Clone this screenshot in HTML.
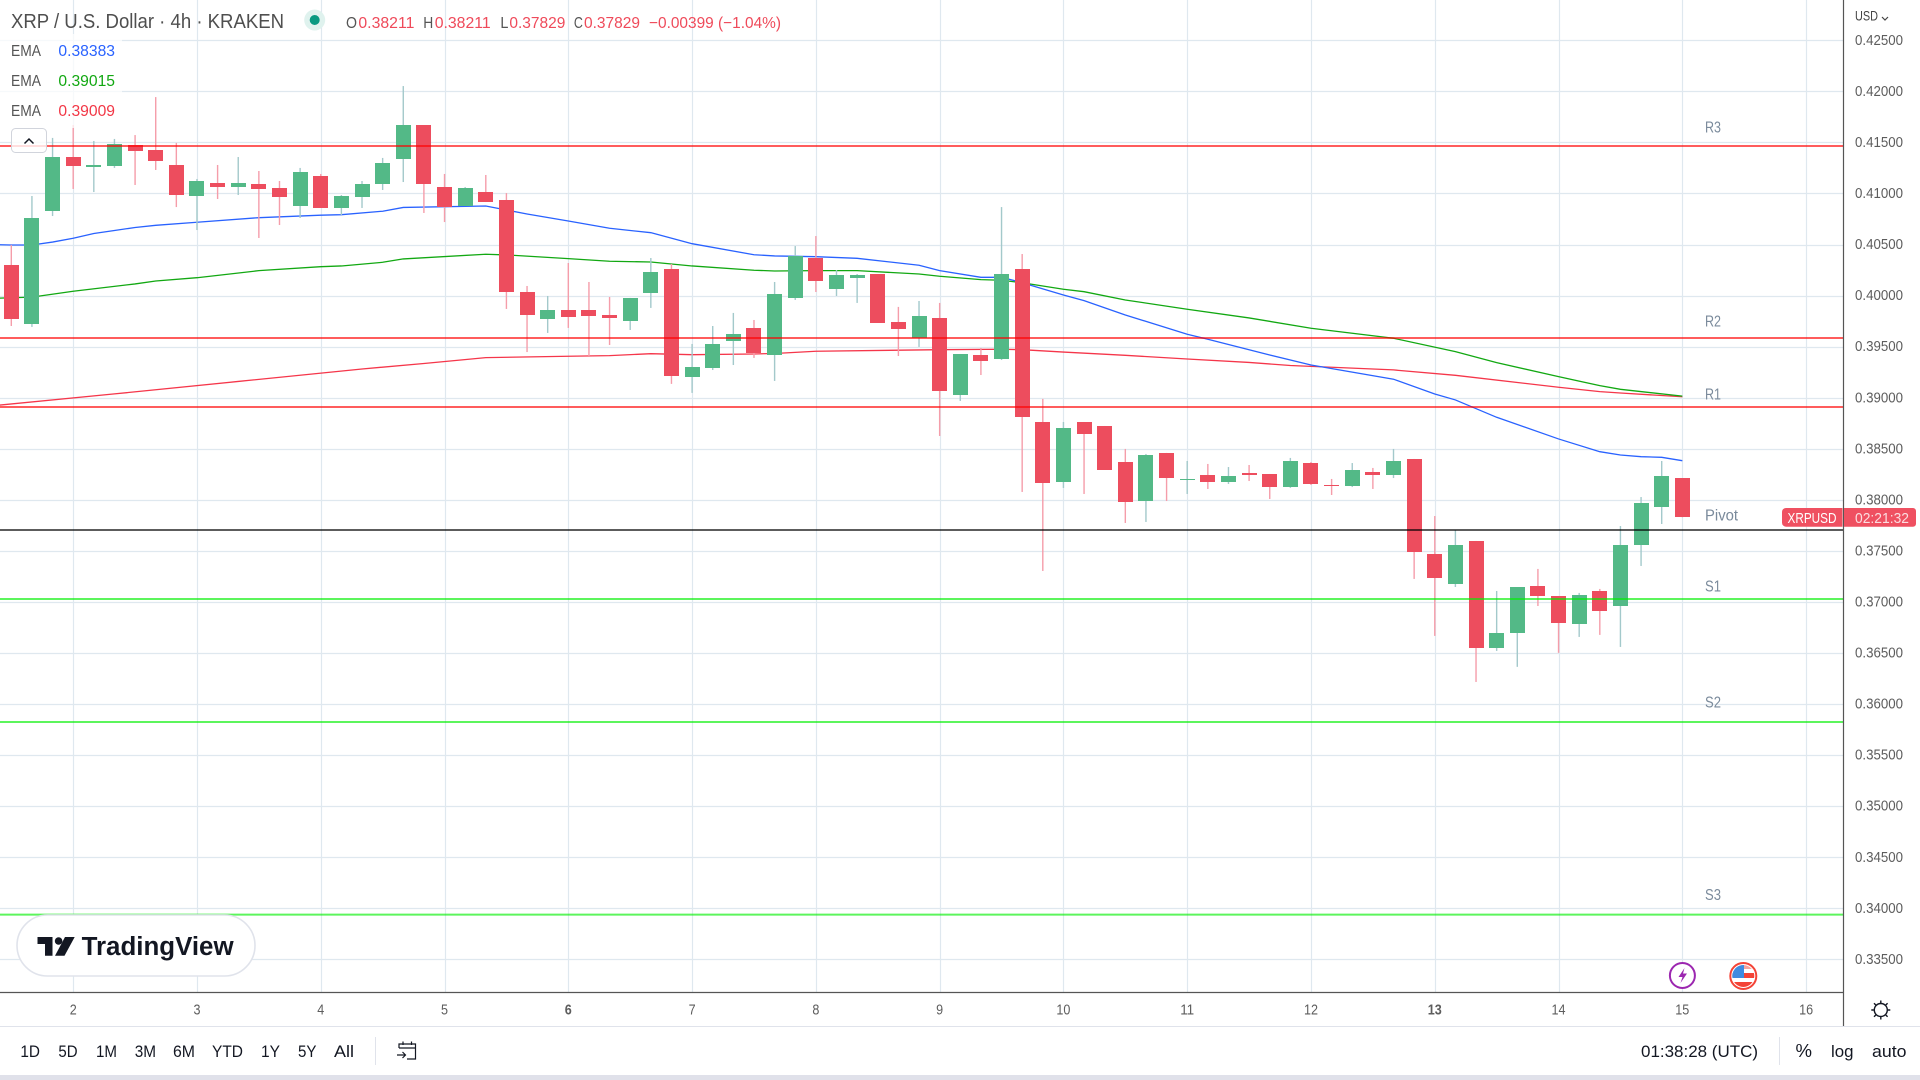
<!DOCTYPE html>
<html lang="en">
<head>
<meta charset="utf-8">
<title>XRP / U.S. Dollar 4h chart</title>
<style>
html,body{margin:0;padding:0;background:#fff;width:1920px;height:1080px;overflow:hidden}
svg{display:block}
text{font-family:"Liberation Sans",sans-serif}
</style>
</head>
<body>
<svg id="chart" xmlns="http://www.w3.org/2000/svg" width="1920" height="1080" viewBox="0 0 1920 1080">
  <rect x="0" y="0" width="1920" height="1080" fill="#ffffff"/>
  <defs>
    <clipPath id="pane"><rect x="0" y="0" width="1843" height="992"/></clipPath>
    <clipPath id="flagclip"><circle cx="1743.3" cy="976" r="11"/></clipPath>
  </defs>
  <g id="grid" clip-path="url(#pane)"></g>
  <g id="emas" clip-path="url(#pane)"></g>
  <g id="candles" clip-path="url(#pane)"></g>
  <g id="levels"></g>
  <g id="level-labels"></g>

  <rect x="0" y="34" width="122" height="94" fill="#ffffff" fill-opacity="0.72"/>
  <text x="11" y="28" font-size="20" fill="#4f4f4f" textLength="273" lengthAdjust="spacingAndGlyphs">XRP / U.S. Dollar · 4h · KRAKEN</text>
  <circle cx="314.7" cy="20" r="10.5" fill="#dff2ee"/>
  <circle cx="314.7" cy="20" r="5" fill="#089981"/>
  <g font-size="16">
    <text x="346" y="28" fill="#555555" textLength="11" lengthAdjust="spacingAndGlyphs">O</text>
    <text x="358.4" y="28" fill="#ef4a5a" textLength="56" lengthAdjust="spacingAndGlyphs">0.38211</text>
    <text x="423.3" y="28" fill="#555555" textLength="10" lengthAdjust="spacingAndGlyphs">H</text>
    <text x="434.7" y="28" fill="#ef4a5a" textLength="56" lengthAdjust="spacingAndGlyphs">0.38211</text>
    <text x="500.4" y="28" fill="#555555" textLength="8" lengthAdjust="spacingAndGlyphs">L</text>
    <text x="509.4" y="28" fill="#ef4a5a" textLength="56" lengthAdjust="spacingAndGlyphs">0.37829</text>
    <text x="573.9" y="28" fill="#555555" textLength="9" lengthAdjust="spacingAndGlyphs">C</text>
    <text x="584" y="28" fill="#ef4a5a" textLength="56" lengthAdjust="spacingAndGlyphs">0.37829</text>
    <text x="649" y="28" fill="#ef4a5a" textLength="132" lengthAdjust="spacingAndGlyphs">−0.00399 (−1.04%)</text>
  </g>
  <g font-size="15.5">
    <text x="11" y="56" fill="#555555" textLength="30" lengthAdjust="spacingAndGlyphs">EMA</text>
    <text x="58.4" y="56" fill="#2962ff" textLength="56.6" lengthAdjust="spacingAndGlyphs">0.38383</text>
    <text x="11" y="86" fill="#555555" textLength="30" lengthAdjust="spacingAndGlyphs">EMA</text>
    <text x="58.4" y="86" fill="#12a812" textLength="56.6" lengthAdjust="spacingAndGlyphs">0.39015</text>
    <text x="11" y="116" fill="#555555" textLength="30" lengthAdjust="spacingAndGlyphs">EMA</text>
    <text x="58.4" y="116" fill="#f23645" textLength="56.6" lengthAdjust="spacingAndGlyphs">0.39009</text>
  </g>
  <g>
    <rect x="11.5" y="128.5" width="35" height="24" rx="4" fill="#ffffff" fill-opacity="0.8" stroke="#d1d4dc"/>
    <path d="M24.5 143.5 L29 139 L33.5 143.5" fill="none" stroke="#131722" stroke-width="1.5"/>
  </g>

  <line x1="1843.5" y1="0" x2="1843.5" y2="1026" stroke="#555555" stroke-width="1.2"/>
  <line x1="0" y1="992.5" x2="1843.5" y2="992.5" stroke="#555555" stroke-width="1.2"/>
  <line x1="0" y1="1026.5" x2="1920" y2="1026.5" stroke="#e0e3eb" stroke-width="1"/>
  <rect x="0" y="1075" width="1920" height="5" fill="#e0e1ea"/>
  <g id="price-ticks"></g>
  <g id="time-ticks"></g>

  <text x="1855" y="20.5" font-size="14" fill="#444444" textLength="23" lengthAdjust="spacingAndGlyphs">USD</text>
  <path d="M1882 17 L1885 20 L1888 17" fill="none" stroke="#444444" stroke-width="1.2"/>

  <path d="M1786 508 H1842.5 V526.7 H1786 a4 4 0 0 1 -4 -4 V512 a4 4 0 0 1 4 -4 z" fill="#ef5061"/>
  <text x="1787.5" y="523" font-size="15" fill="#ffffff" textLength="49" lengthAdjust="spacingAndGlyphs">XRPUSD</text>
  <path d="M1844 508 H1913 a3 3 0 0 1 3 3 V523.7 a3 3 0 0 1 -3 3 H1844 z" fill="#ef5061"/>
  <text x="1855" y="523" font-size="15" fill="#fbdde0" textLength="54" lengthAdjust="spacingAndGlyphs">02:21:32</text>

  <g>
    <rect x="17" y="915" width="238" height="61" rx="30.5" fill="#ffffff" stroke="#e0e3eb" stroke-width="1.6"/>
    <path d="M37.5 937 H52.5 V955.7 H45 V944 H37.5 Z" fill="#131722"/>
    <circle cx="58.6" cy="941" r="3.8" fill="#131722"/>
    <path d="M65 937 H74.7 L64.5 955.7 H55 Z" fill="#131722"/>
    <text x="81.6" y="955" font-size="25.5" font-weight="700" fill="#131722" textLength="152" lengthAdjust="spacingAndGlyphs">TradingView</text>
  </g>

  <g>
    <circle cx="1682.4" cy="975.5" r="12.5" fill="#ffffff" stroke="#9c27b0" stroke-width="2"/>
    <path d="M1684.5 968 L1678.5 977 H1682.5 L1680.5 983 L1687 973.5 H1683 Z" fill="#9c27b0"/>
  </g>
  <g>
    <circle cx="1743.3" cy="976" r="13" fill="#ffffff" stroke="#f44336" stroke-width="2"/>
    <g clip-path="url(#flagclip)">
      <rect x="1732" y="965" width="23" height="4" fill="#f6a5a0"/>
      <rect x="1732" y="973" width="23" height="5" fill="#f44336"/>
      <rect x="1732" y="982" width="23" height="5" fill="#f44336"/>
      <rect x="1732" y="965" width="12" height="13" fill="#3f8be0"/>
    </g>
  </g>

  <g stroke="#131722" fill="none">
    <circle cx="1880.8" cy="1010" r="6.5" stroke-width="1.4"/>
    <path d="M1880.8 1000.5 V1003 M1880.8 1017 V1019.5 M1871.3 1010 H1873.8 M1887.8 1010 H1890.3 M1874 1003.2 L1875.8 1005 M1885.8 1015 L1887.6 1016.8 M1874 1016.8 L1875.8 1015 M1885.8 1005 L1887.6 1003.2" stroke-width="1.4"/>
  </g>

  <g font-size="17" fill="#131722">
    <text x="20.4" y="1057" textLength="19.6" lengthAdjust="spacingAndGlyphs">1D</text>
    <text x="58.4" y="1057" textLength="19.2" lengthAdjust="spacingAndGlyphs">5D</text>
    <text x="96" y="1057" textLength="21" lengthAdjust="spacingAndGlyphs">1M</text>
    <text x="134.7" y="1057" textLength="21.3" lengthAdjust="spacingAndGlyphs">3M</text>
    <text x="173" y="1057" textLength="22" lengthAdjust="spacingAndGlyphs">6M</text>
    <text x="212" y="1057" textLength="31" lengthAdjust="spacingAndGlyphs">YTD</text>
    <text x="261" y="1057" textLength="19" lengthAdjust="spacingAndGlyphs">1Y</text>
    <text x="298" y="1057" textLength="18.5" lengthAdjust="spacingAndGlyphs">5Y</text>
    <text x="334" y="1057" textLength="20" lengthAdjust="spacingAndGlyphs">All</text>
  </g>
  <line x1="375.5" y1="1037" x2="375.5" y2="1065" stroke="#e0e3eb"/>
  <path d="M399 1048 V1044 H415.5 V1059 H407 M399 1048 H415.5 M403 1041.5 V1045 M411.5 1041.5 V1045 M397 1055 H405.5 M402.5 1052 L405.5 1055 L402.5 1058" fill="none" stroke="#131722" stroke-width="1.2"/>

  <g font-size="17" fill="#131722">
    <text x="1641" y="1057" textLength="117" lengthAdjust="spacingAndGlyphs">01:38:28 (UTC)</text>
    <text x="1795.5" y="1057" font-size="18" textLength="16.5" lengthAdjust="spacingAndGlyphs">%</text>
    <text x="1831" y="1057" textLength="22.5" lengthAdjust="spacingAndGlyphs">log</text>
    <text x="1872" y="1057" textLength="34.5" lengthAdjust="spacingAndGlyphs">auto</text>
  </g>
  <line x1="1779.5" y1="1037" x2="1779.5" y2="1065" stroke="#e0e3eb"/>
</svg>
<script>
const opens=[.40299,.39722,.40828,.41357,.41259,.41269,.41475,.41426,.41279,.40975,
.41102,.41063,.41093,.41053,.40877,.41171,.40858,.40965,.41093,.41338,
.41670,.41063,.40877,.41014,.40936,.40035,.39771,.39859,.39859,.39810,
.39751,.40026,.40260,.39203,.39291,.39555,.39683,.39418,.39977,.40368,
.40064,.40172,.40211,.39741,.39585,.39781,.39027,.39418,.39379,.40260,
.38762,.38174,.38762,.38723,.38370,.37988,.38459,.38194,.38243,.38174,
.38263,.38253,.38125,.38360,.38145,.38135,.38273,.38243,.38400,.37470,
.37176,.37597,.36549,.36696,.37156,.37058,.36784,.37107,.36960,.37557,.37929,.38211];
const highs=[.40495,.40975,.41544,.41670,.41514,.41534,.41572,.41944,.41495,.41142,
.41279,.41357,.41220,.41122,.41250,.41191,.40985,.41122,.41348,.42052,
.41670,.41191,.41063,.41181,.41004,.40094,.39996,.40319,.40133,.39986,
.39977,.40368,.40309,.39526,.39702,.39830,.39761,.40133,.40485,.40583,
.40250,.40211,.40211,.39889,.39947,.39928,.39428,.39487,.40867,.40407,
.38988,.38762,.38762,.38723,.38498,.38449,.38459,.38380,.38351,.38321,
.38341,.38253,.38410,.38370,.38204,.38360,.38312,.38498,.38400,.37841,
.37704,.37597,.37107,.37146,.37323,.37058,.37088,.37127,.37743,.38027,.38380,.38211];
const lows=[.39702,.39693,.40779,.41044,.41014,.41250,.41083,.41230,.40867,.40642,
.40946,.40985,.40564,.40691,.40760,.40858,.40789,.40858,.41034,.41112,
.40809,.40720,.40877,.40916,.39869,.39447,.39634,.39683,.39408,.39516,
.39663,.39879,.39135,.39047,.39271,.39320,.39389,.39164,.39957,.40035,
.39996,.39928,.39732,.39408,.39497,.38625,.38968,.39222,.39369,.38077,
.37303,.38116,.38057,.38292,.37773,.37783,.37988,.38057,.38106,.38155,
.38184,.38008,.38116,.38145,.38047,.38125,.38106,.38213,.37225,.36667,
.37146,.36216,.36520,.36364,.36960,.36501,.36657,.36677,.36559,.37352,.37763,.37829];
const closes=[.39771,.40760,.41357,.41269,.41279,.41485,.41416,.41318,.40985,.41122,
.41063,.41102,.41044,.40965,.41210,.40858,.40975,.41093,.41299,.41670,
.41093,.40867,.41053,.40916,.40035,.39810,.39859,.39790,.39800,.39781,
.39977,.40231,.39213,.39301,.39526,.39624,.39438,.40016,.40387,.40143,
.40201,.40201,.39732,.39673,.39800,.39066,.39428,.39359,.40211,.38811,
.38165,.38703,.38645,.38292,.37978,.38439,.38213,.38204,.38174,.38234,
.38243,.38125,.38380,.38155,.38135,.38292,.38243,.38380,.37489,.37235,
.37557,.36549,.36696,.37146,.37058,.36794,.37068,.36911,.37557,.37969,.38234,.37829];

const emaFastBars=[-1,0,1,2,3,4,5,6,7,9,12,15,16,18,19,23,24,25,27,29,31,33,36,37,39,41,44,45,47,48,49,51,52,54,57,58,61,63,67,69,70,72,75,77,78,79,80,81];
const emaFastValues=[.40500,.40495,.40495,.40524,.40561,.40608,.40637,.40667,.40688,.40718,.40763,.40787,.40792,.40826,.40863,.40877,.40838,.40799,.40730,.40659,.40616,.40508,.40400,.40388,.40381,.40365,.40297,.40244,.40179,.40179,.40126,.40006,.39950,.39810,.39621,.39572,.39418,.39320,.39181,.39036,.38978,.38808,.38596,.38471,.38439,.38422,.38416,.38383];
const emaMidBars=[-1,1,3,6,7,9,12,15,16,18,19,23,24,27,29,31,33,36,37,39,41,44,45,47,48,49,51,52,54,57,60,63,67,70,72,75,77,78,81];
const emaMidValues=[.39972,.39985,.40042,.40114,.40143,.40175,.40244,.40283,.40290,.40326,.40359,.40405,.40398,.40362,.40336,.40329,.40290,.40248,.40241,.40244,.40244,.40211,.40189,.40156,.40150,.40126,.40062,.40038,.39957,.39866,.39781,.39680,.39582,.39451,.39343,.39206,.39118,.39082,.39015];
const emaSlowBars=[-1,5,11,17,20,23,27,29,31,33,36,37,39,45,48,49,51,54,57,60,62,67,70,75,77,78,81];
const emaSlowValues=[.38919,.39037,.39159,.39281,.39335,.39392,.39406,.39412,.39431,.39421,.39428,.39433,.39455,.39470,.39474,.39470,.39447,.39415,.39379,.39345,.39315,.39272,.39219,.39102,.39059,.39046,.39009];

const levelNames=['R3','R2','R1','Pivot','S1','S2','S3'];
const levelValues=[.41465,.39585,.38909,.37704,.37029,.35824,.33937];
const levelLabelPrices=[.41595,.39695,.38981,.37795,.37100,.35964,.34081];

const priceTicks=[.425,.42,.415,.41,.405,.4,.395,.39,.385,.38,.375,.37,.365,.36,.355,.35,.345,.34,.335];
const priceTickLabels=['0.42500','0.42000','0.41500','0.41000','0.40500','0.40000','0.39500','0.39000','0.38500','0.38000','0.37500','0.37000','0.36500','0.36000','0.35500','0.35000','0.34500','0.34000','0.33500'];
const dayBars=[3,9,15,21,27,33,39,45,51,57,63,69,75,81,87];
const dayLabels=['2','3','4','5','6','7','8','9','10','11','12','13','14','15','16'];

const NS='http://www.w3.org/2000/svg';
function yScale(p){return 40.3+(0.425-p)*10211;}
function xScale(i){return 11.3+20.63*i;}
function svgEl(tag){return document.createElementNS(NS,tag);}

const gridG=document.getElementById('grid');
priceTicks.forEach(function(p){
  const l=svgEl('line');
  
  
  const y=Math.round(yScale(p))+0.5;
  l.setAttribute('x1',0);l.setAttribute('x2',1843);l.setAttribute('y1',y);l.setAttribute('y2',y);
  l.setAttribute('stroke','#dfe8ef');l.setAttribute('stroke-width',1.2);
  gridG.appendChild(l);
});
dayBars.forEach(function(b){
  const l=svgEl('line');
  
  
  const x=Math.round(xScale(b))+0.5;
  l.setAttribute('x1',x);l.setAttribute('x2',x);l.setAttribute('y1',0);l.setAttribute('y2',992);
  l.setAttribute('stroke','#dfe8ef');l.setAttribute('stroke-width',1.2);
  gridG.appendChild(l);
});

function linePoints(bars,vals){
  return bars.map(function(b,k){return xScale(b).toFixed(2)+','+yScale(vals[k]).toFixed(2);}).join(' ');
}
const emaG=document.getElementById('emas');
const emaSlow=svgEl('polyline');


emaSlow.setAttribute('points',linePoints(emaSlowBars,emaSlowValues));
emaSlow.setAttribute('fill','none');emaSlow.setAttribute('stroke','#f5364a');emaSlow.setAttribute('stroke-width',1.3);
emaG.appendChild(emaSlow);
const emaMid=svgEl('polyline');


emaMid.setAttribute('points',linePoints(emaMidBars,emaMidValues));
emaMid.setAttribute('fill','none');emaMid.setAttribute('stroke','#12a812');emaMid.setAttribute('stroke-width',1.3);
emaG.appendChild(emaMid);
const emaFast=svgEl('polyline');


emaFast.setAttribute('points',linePoints(emaFastBars,emaFastValues));
emaFast.setAttribute('fill','none');emaFast.setAttribute('stroke','#2962ff');emaFast.setAttribute('stroke-width',1.3);
emaG.appendChild(emaFast);

const candleG=document.getElementById('candles');
opens.forEach(function(o,i){
  const c=closes[i],up=c>=o,cx=xScale(i);
  const wick=svgEl('rect');
  
  
  const hy=yScale(highs[i]),ly=yScale(lows[i]);
  wick.setAttribute('x',(cx-0.7).toFixed(2));wick.setAttribute('width',1.4);
  wick.setAttribute('y',hy.toFixed(2));wick.setAttribute('height',(ly-hy).toFixed(2));
  wick.setAttribute('fill',up?'#a3c9cb':'#f59daa');
  candleG.appendChild(wick);
  const body=svgEl('rect');
  
  
  const t=Math.round(yScale(Math.max(o,c))),b=Math.round(yScale(Math.min(o,c)));
  body.setAttribute('x',Math.round(cx-7.5));body.setAttribute('width',15);
  body.setAttribute('y',t);body.setAttribute('height',Math.max(1,b-t));
  body.setAttribute('fill',up?'#53b987':'#ed4d5e');
  candleG.appendChild(body);
});

const levelG=document.getElementById('levels');
const labelG=document.getElementById('level-labels');
levelNames.forEach(function(name,i){
  const y=yScale(levelValues[i]);
  const kind=name==='Pivot'?'#000000':(name.charAt(0)==='R'?'#ff0000':'#00f000');
  const l=svgEl('line');
  
  
  l.setAttribute('x1',0);l.setAttribute('x2',1843);l.setAttribute('y1',y);l.setAttribute('y2',y);
  l.setAttribute('stroke',kind);l.setAttribute('stroke-opacity',0.64);l.setAttribute('stroke-width',2);
  levelG.appendChild(l);
  const t=svgEl('text');
  
  
  t.setAttribute('x',1705);t.setAttribute('y',yScale(levelLabelPrices[i]).toFixed(1));
  t.setAttribute('font-size',15.5);t.setAttribute('fill','#7a8a9b');
  t.setAttribute('textLength',name==='Pivot'?33:16);
  t.setAttribute('lengthAdjust','spacingAndGlyphs');
  t.textContent=name;
  labelG.appendChild(t);
});

const priceG=document.getElementById('price-ticks');
priceTicks.forEach(function(p,i){
  const t=svgEl('text');
  
  
  t.setAttribute('x',1855);t.setAttribute('y',(yScale(p)+4.6).toFixed(1));
  t.setAttribute('font-size',14.5);t.setAttribute('fill','#5d5d5d');
  t.setAttribute('textLength',48);t.setAttribute('lengthAdjust','spacingAndGlyphs');
  t.textContent=priceTickLabels[i];
  priceG.appendChild(t);
});

const timeG=document.getElementById('time-ticks');
dayBars.forEach(function(b,i){
  const t=svgEl('text');
  
  
  t.setAttribute('x',xScale(b).toFixed(1));t.setAttribute('y',1014.5);
  t.setAttribute('font-size',14.5);t.setAttribute('text-anchor','middle');
  const strong=dayLabels[i]==='6'||dayLabels[i]==='13';
  t.setAttribute('font-weight',strong?'700':'400');
  t.setAttribute('fill','#5d5d5d');
  t.setAttribute('textLength',dayLabels[i].length*7);
  t.setAttribute('lengthAdjust','spacingAndGlyphs');
  t.textContent=dayLabels[i];
  timeG.appendChild(t);
});
</script>
</body>
</html>
